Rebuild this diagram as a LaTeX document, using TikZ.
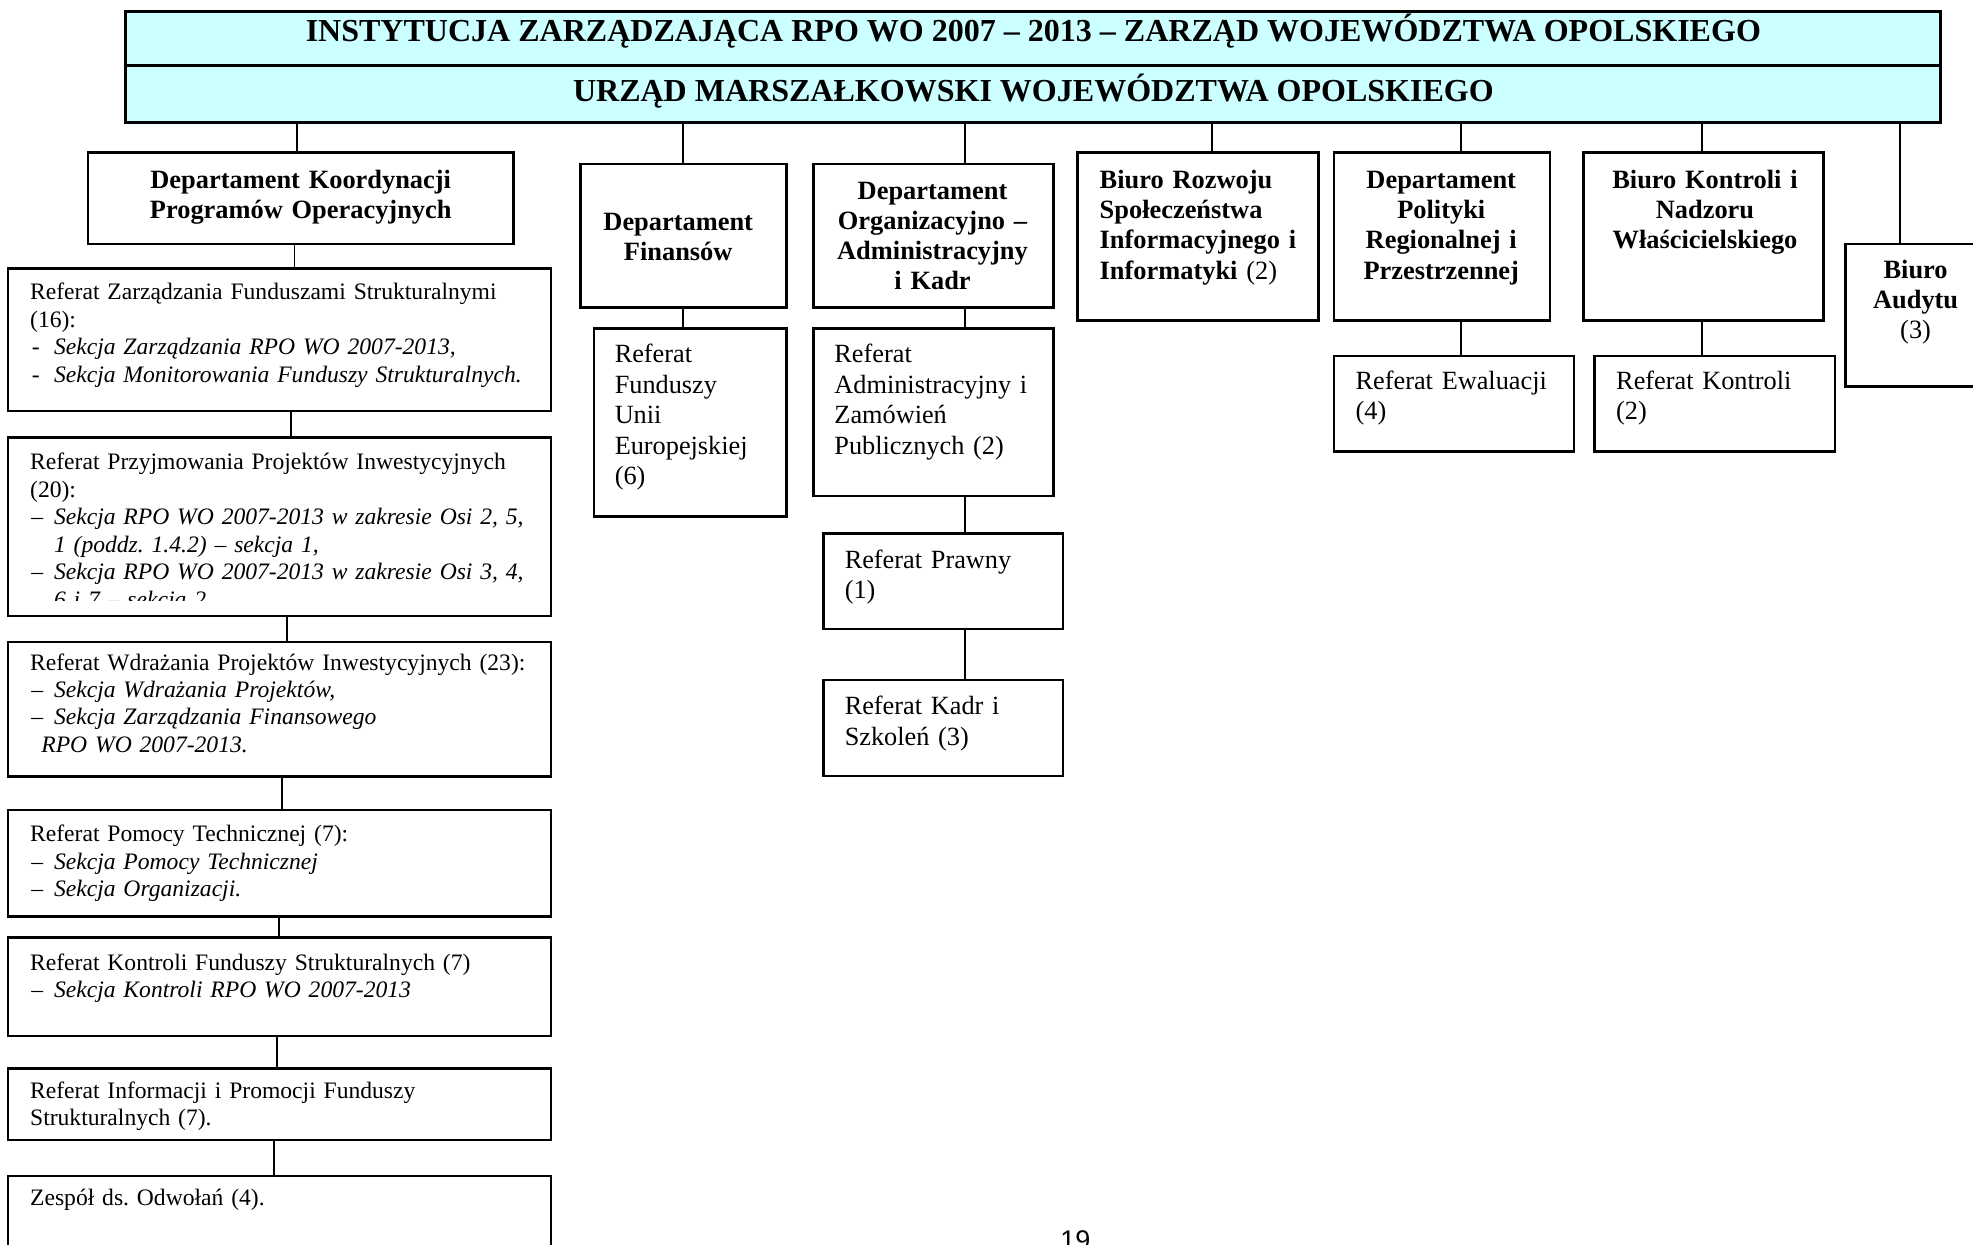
\documentclass[tikz,border=0pt]{standalone}
\usepackage{fontspec}
\setmainfont{Liberation Serif}
\newfontfamily\pgnumfont{Liberation Sans}
\usetikzlibrary{fit}
\definecolor{hdrcyan}{HTML}{CCFFFF}
\newcommand\dshA{\makebox[10.64pt][l]{\hspace{0.8pt}-}}
\newcommand\dshB{\makebox[10.64pt][l]{\hspace{0.5pt}–}}
\newcommand\indA{\hspace*{10.64pt}}
\frenchspacing
\begin{document}
\begin{tikzpicture}[x=0.56pt,y=-0.56pt,
  box/.style={draw, line width=1.1pt, inner sep=0pt},
  hdr/.style={draw, line width=1.3pt, fill=hdrcyan, inner sep=0pt},
  conn/.style={line width=0.8pt},
  ttl/.style={font=\fontsize{14.25}{16}\selectfont\bfseries, inner sep=0pt, anchor=base},
  boldc/.style={font=\fontsize{11.75}{13.45}\selectfont\bfseries, inner sep=0pt, anchor=base, text width=#1*0.56pt, align=center},
  boldl/.style={font=\fontsize{11.75}{13.45}\selectfont\bfseries, inner sep=0pt, anchor=base west, text width=#1*0.56pt, align=left},
  regl/.style={font=\fontsize{11.7}{13.6}\selectfont, inner sep=0pt, anchor=base west, text width=#1*0.56pt, align=left},
  smalll/.style={font=\fontsize{10.5}{12.2}\selectfont, inner sep=0pt, anchor=base west, text width=250pt, align=left}
]
\useasboundingbox (0,0) rectangle (1568,989);
\fill[white] (0,0) rectangle (1568,989);
\clip (0,0) rectangle (1568,989);

% header
\node[hdr, fit={(100,9.5) (1542.5,52)}] (hdrA) {};
\node[hdr, fit={(100,52) (1542.5,97.5)}] (hdrB) {};
\node[ttl] (t1) at (821.25,33.1) {INSTYTUCJA ZARZĄDZAJĄCA RPO WO 2007 – 2013 – ZARZĄD WOJEWÓDZTWA OPOLSKIEGO};
\node[ttl] (t2) at (821.25,80.8) {URZĄD MARSZAŁKOWSKI WOJEWÓDZTWA OPOLSKIEGO};

% departments
\node[box, fit={(70,121.3) (408,193.9)}] (koord) {};
\node[boldc=300] (tkoord) at (239,149.7) {Departament Koordynacji\\Programów Operacyjnych};

\node[box, fit={(461.5,130.3) (625.2,244.5)}] (fin) {};
\node[boldc=160] (tfin) at (539,182.8) {Departament\\Finansów};

\node[box, fit={(646.4,130.3) (837.1,244.5)}] (org) {};
\node[boldc=190] (torg) at (741.1,158.4) {Departament\\Organizacyjno –\\Administracyjny\\i Kadr};

\node[box, fit={(856.4,121.3) (1047.8,254.8)}] (brsi) {};
\node[boldl=200] (tbrsi) at (873.6,149.7) {Biuro Rozwoju\\Społeczeństwa\\Informacyjnego i\\Informatyki \textmd{(2)}};

\node[box, fit={(1060,121.3) (1232,254.8)}] (dprp) {};
\node[boldc=170] (tdprp) at (1145.4,149.7) {Departament\\Polityki\\Regionalnej i\\Przestrzennej};

\node[box, fit={(1258.4,121.3) (1449.3,254.8)}] (bknw) {};
\node[boldc=190] (tbknw) at (1355,149.7) {Biuro Kontroli i\\Nadzoru\\Właścicielskiego};

\node[box, fit={(1466.6,193.9) (1580,307.3)}] (baud) {};
\node[boldc=100] (tbaud) at (1522.4,221.2) {Biuro\\Audytu\\\textmd{(3)}};

% sub-units (middle / right)
\node[box, fit={(472,261) (625.2,410.6)}] (rfue) {};
\node[regl=140] (trfue) at (488.2,288.2) {Referat\\Funduszy\\Unii\\Europejskiej\\(6)};

\node[box, fit={(646.4,261) (837.1,394.2)}] (radm) {};
\node[regl=175] (tradm) at (662.8,288.2) {Referat\\Administracyjny i\\Zamówień\\Publicznych (2)};

\node[box, fit={(654.3,423.8) (845,499.9)}] (rpraw) {};
\node[regl=170] (trpraw) at (671,451.7) {Referat Prawny\\(1)};

\node[box, fit={(654.3,540.4) (845,616.7)}] (rkadr) {};
\node[regl=170] (trkadr) at (671,568.2) {Referat Kadr i\\Szkoleń (3)};

\node[box, fit={(1060.2,282.9) (1251,359)}] (rewal) {};
\node[regl=172] (trewal) at (1077,309.4) {Referat Ewaluacji\\(4)};

\node[box, fit={(1267.3,282.9) (1458.2,359)}] (rkon) {};
\node[regl=172] (trkon) at (1284.1,309.4) {Referat Kontroli\\(2)};

% left column
\node[box, fit={(6.5,213.3) (438,326.6)}] (zarz) {};
\node[smalll] (tzarz) at (23.6,238.4) {Referat Zarządzania Funduszami Strukturalnymi\\(16):\\\dshA\textit{Sekcja Zarządzania RPO WO 2007-2013,}\\\dshA\textit{Sekcja Monitorowania Funduszy Strukturalnych.}};

\node[box, fit={(6.5,347.8) (438,489.5)}] (przyj) {};
\begin{scope}
\clip (6.5,347.8) rectangle (438,477);
\node[smalll] (tprzyj) at (23.6,373.5) {Referat Przyjmowania Projektów Inwestycyjnych\\(20):\\\dshB\textit{Sekcja RPO WO 2007-2013 w zakresie Osi 2, 5,}\\\indA\textit{1 (poddz. 1.4.2) – sekcja 1,}\\\dshB\textit{Sekcja RPO WO 2007-2013 w zakresie Osi 3, 4,}\\\indA\textit{6 i 7 – sekcja 2.}};
\end{scope}

\node[box, fit={(6.5,510) (438,617.2)}] (wdr) {};
\node[smalll] (twdr) at (23.6,532.5) {Referat Wdrażania Projektów Inwestycyjnych (23):\\\dshB\textit{Sekcja Wdrażania Projektów,}\\\dshB\textit{Sekcja Zarządzania Finansowego}\\\hspace*{5pt}\textit{RPO WO 2007-2013.}};

\node[box, fit={(6.5,643.7) (438,728.5)}] (pom) {};
\node[smalll] (tpom) at (23.6,668.9) {Referat Pomocy Technicznej (7):\\\dshB\textit{Sekcja Pomocy Technicznej}\\\dshB\textit{Sekcja Organizacji.}};

\node[box, fit={(6.5,745.2) (438,823.3)}] (kfs) {};
\node[smalll] (tkfs) at (23.6,770.9) {Referat Kontroli Funduszy Strukturalnych (7)\\\dshB\textit{Sekcja Kontroli RPO WO 2007-2013}};

\node[box, fit={(6.5,849) (438,906)}] (info) {};
\node[smalll] (tinfo) at (23.6,872.9) {Referat Informacji i Promocji Funduszy\\Strukturalnych (7).};

\node[box, fit={(6.5,934.6) (438,1010)}] (zesp) {};
\node[smalll] (tzesp) at (23.6,957.7) {Zespół ds. Odwołań (4).};

% page number
\node[font=\pgnumfont\fontsize{12}{14}\selectfont, inner sep=0pt, anchor=base west] (pgnum) at (842.4,993.3) {19};

% connectors
\draw[conn] (hdrB.south -| 236,0) -- (koord.north -| 236,0);
\draw[conn] (koord.south -| 234,0) -- (zarz.north -| 234,0);
\draw[conn] (zarz.south -| 231,0) -- (przyj.north -| 231,0);
\draw[conn] (przyj.south -| 228,0) -- (wdr.north -| 228,0);
\draw[conn] (wdr.south -| 224,0) -- (pom.north -| 224,0);
\draw[conn] (pom.south -| 222,0) -- (kfs.north -| 222,0);
\draw[conn] (kfs.south -| 220,0) -- (info.north -| 220,0);
\draw[conn] (info.south -| 217.5,0) -- (zesp.north -| 217.5,0);

\draw[conn] (hdrB.south -| 543,0) -- (fin.north -| 543,0);
\draw[conn] (fin.south -| 543,0) -- (rfue.north -| 543,0);

\draw[conn] (hdrB.south -| 767,0) -- (org.north -| 767,0);
\draw[conn] (org.south -| 767,0) -- (radm.north -| 767,0);
\draw[conn] (radm.south -| 767,0) -- (rpraw.north -| 767,0);
\draw[conn] (rpraw.south -| 767,0) -- (rkadr.north -| 767,0);

\draw[conn] (hdrB.south -| 963.5,0) -- (brsi.north -| 963.5,0);
\draw[conn] (hdrB.south -| 1161,0) -- (dprp.north -| 1161,0);
\draw[conn] (dprp.south -| 1161,0) -- (rewal.north -| 1161,0);
\draw[conn] (hdrB.south -| 1352.5,0) -- (bknw.north -| 1352.5,0);
\draw[conn] (bknw.south -| 1352.5,0) -- (rkon.north -| 1352.5,0);
\draw[conn] (hdrB.south -| 1510,0) -- (baud.north -| 1510,0);
\end{tikzpicture}
\end{document}
